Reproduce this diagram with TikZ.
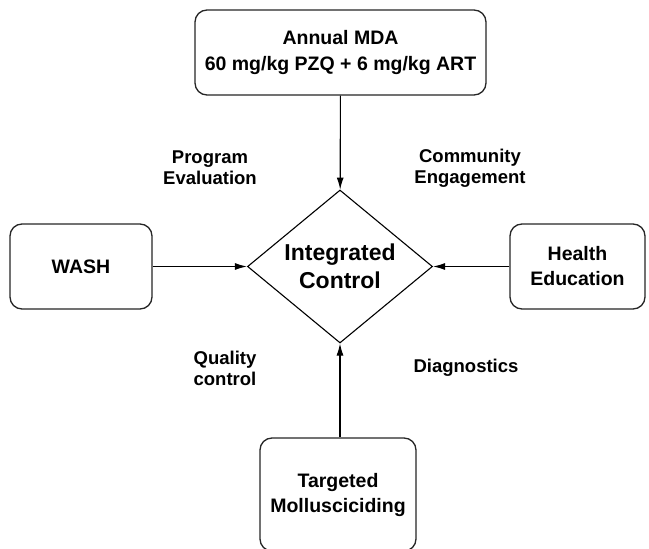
\documentclass[tikz,border=0pt]{standalone}
\usepackage{fontspec}
\setmainfont{Liberation Sans}
\usepackage{tikz}
\usetikzlibrary{shapes.geometric, arrows.meta}
\tikzstyle{process} = [rectangle, rounded corners=12pt, draw=black!85, line width=1.3pt, fill=white, text centered, align=center, font=\fontsize{19.5}{25}\selectfont\bfseries]
\tikzstyle{decision} = [diamond, aspect=1.21, minimum width=185pt, minimum height=153pt, inner sep=0pt, draw=black, line width=1.1pt, fill=white, align=center, font=\fontsize{23}{28}\selectfont\bfseries]
\tikzstyle{tag} = [align=center, font=\fontsize{18.5}{21}\selectfont\bfseries]
\tikzstyle{arrow} = [line width=1.1pt, -{Latex[length=12pt,width=7pt]}]

\begin{document}
\begin{tikzpicture}[x=1pt, y=-1pt]
				\useasboundingbox (0,0) rectangle (649,549);
				\node (control) [decision] at (340,266.5) {Integrated\\Control};
				\node (mda) [process, minimum width=291pt, minimum height=85pt] at (340.5,52.5) {Annual MDA\\60 mg/kg PZQ + 6 mg/kg ART};
				\node (wash) [process, minimum width=142pt, minimum height=85pt] at (81,266.5) {WASH};
				\node (health) [process, minimum width=135pt, minimum height=85pt] at (577.5,266.5) {Health\\Education};
				\node (mollusc) [process, minimum width=156pt, minimum height=113pt] at (338,494.5) {Targeted\\Mollusciciding};
				\node (evaluation) [tag] at (210,168) {Program\\Evaluation};
				\node (engagement) [tag] at (470,168) {Community\\Engagement};
				\node (quality) [tag] at (225,368) {Quality\\control};
				\node (diagnostics) [tag] at (466,368) {Diagnostics};
				\draw [arrow] (mda) -- (control);
				\draw [arrow] (wash) -- (control);
				\draw [arrow] (health) -- (control);
				\draw [arrow] (mollusc.north -| control.south) -- (control);
			\end{tikzpicture}
\end{document}
